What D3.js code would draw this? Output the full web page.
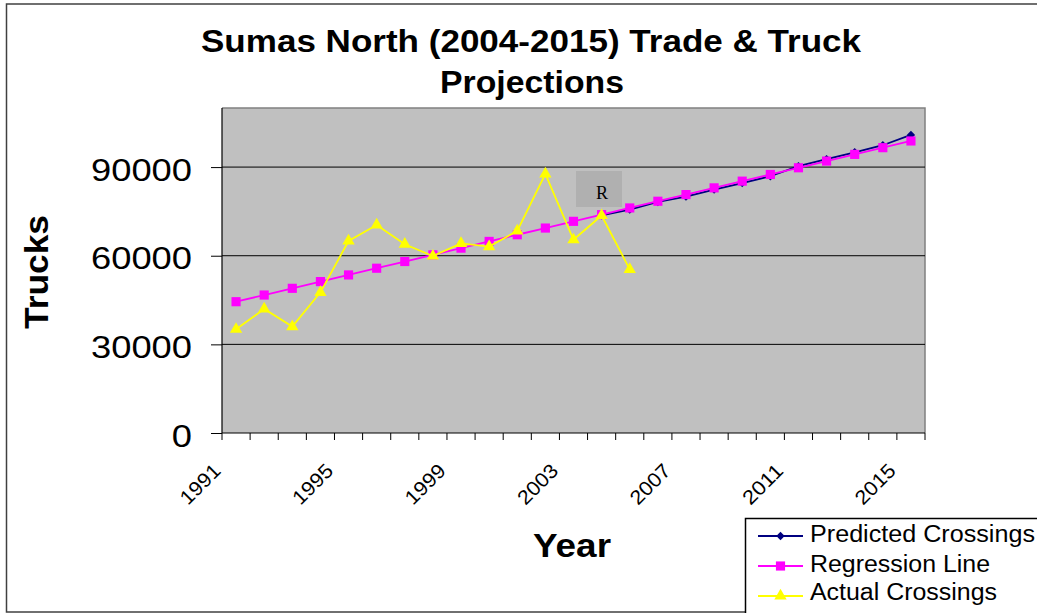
<!DOCTYPE html>
<html>
<head>
<meta charset="utf-8">
<script src="https://cdn.jsdelivr.net/npm/d3@7"></script>
<style>
  html, body { margin: 0; padding: 0; background: #fff; }
  svg { display: block; }
  text { font-family: "Liberation Sans", Arial, Helvetica, sans-serif; }
  text.serif { font-family: "Liberation Serif", "Times New Roman", serif; }
</style>
</head>
<body>
<script>
// ---- data ----
const years = [1991,1992,1993,1994,1995,1996,1997,1998,1999,2000,2001,2002,2003,
               2004,2005,2006,2007,2008,2009,2010,2011,2012,2013,2014,2015];
const yearLabels = [1991,1995,1999,2003,2007,2011,2015];
const regression = [44440,46700,48970,51240,53500,55770,58040,60300,62570,64840,67100,69370,
                    71640,73900,76170,78440,80700,82970,85240,87500,89770,92040,94300,96570,98840];
const predictedYears = [2004,2005,2006,2007,2008,2009,2010,2011,2012,2013,2014,2015];
const predicted = [73700,75600,78200,80000,82400,84600,86900,90300,92700,95000,97400,100900];
const actualYears = [1991,1992,1993,1994,1995,1996,1997,1998,1999,2000,2001,2002,2003,2004,2005];
const actual = [35100,42000,36000,47600,65000,70400,63900,59900,64200,63100,68400,87700,65400,73600,55400];
const yTicks = [0,30000,60000,90000];
const seriesNames = ["Predicted Crossings","Regression Line","Actual Crossings"];
const titleLines = ["Sumas North (2004-2015) Trade & Truck","Projections"];

// ---- layout ----
const W = 1037, H = 613;
const plot = {left: 222, right: 925, top: 108, bottom: 433};

const svg = d3.select("body").append("svg").attr("width", W).attr("height", H);

// chart frame
svg.append("rect").attr("x", 6.5).attr("y", 4).attr("width", W + 20).attr("height", 608)
  .attr("fill", "#fff").attr("stroke", "#404040").attr("stroke-width", 1.5);

const x = d3.scaleBand().domain(years).range([plot.left, plot.right]).padding(0);
const cx = d => x(d) + x.bandwidth() / 2;
const y = d3.scaleLinear().domain([0, 110000]).range([plot.bottom, plot.top]);

// plot area
svg.append("rect").attr("x", plot.left).attr("y", plot.top)
  .attr("width", plot.right - plot.left).attr("height", plot.bottom - plot.top)
  .attr("fill", "#c0c0c0");
svg.append("path")
  .attr("d", `M${plot.left},${plot.top}H${plot.right}V${plot.bottom}`)
  .attr("fill", "none").attr("stroke", "#808080").attr("stroke-width", 1.5);

// gridlines
svg.append("g").selectAll("line").data(yTicks.filter(d => d > 0)).join("line")
  .attr("x1", plot.left).attr("x2", plot.right)
  .attr("y1", d => y(d)).attr("y2", d => y(d))
  .attr("stroke", "#000").attr("stroke-width", 1);

// y axis
const yAxis = svg.append("g").attr("transform", `translate(${plot.left},0)`)
  .call(d3.axisLeft(y).tickValues(yTicks).tickSize(11).tickFormat(""));
yAxis.select(".domain").remove();
yAxis.selectAll(".tick line").attr("stroke", "#000");
svg.append("line").attr("x1", plot.left).attr("x2", plot.left)
  .attr("y1", plot.top).attr("y2", plot.bottom).attr("stroke", "#000").attr("stroke-width", 1.2);
svg.append("g").selectAll("text").data(yTicks).join("text")
  .attr("x", 192).attr("y", d => y(d) + 13.5)
  .attr("text-anchor", "end").attr("font-size", 32)
  .attr("textLength", d => String(d).length * 20.2).attr("lengthAdjust", "spacingAndGlyphs")
  .text(d => d);

// x axis
svg.append("line").attr("x1", plot.left).attr("x2", plot.right)
  .attr("y1", plot.bottom).attr("y2", plot.bottom).attr("stroke", "#000").attr("stroke-width", 1.2);
const bounds = years.map(d => x(d)).concat([x(years[years.length - 1]) + x.bandwidth()]);
svg.append("g").selectAll("line").data(bounds).join("line")
  .attr("x1", d => d).attr("x2", d => d)
  .attr("y1", plot.bottom).attr("y2", plot.bottom + 7)
  .attr("stroke", "#000").attr("stroke-width", 1);
svg.append("g").selectAll("text").data(yearLabels).join("text")
  .attr("transform", d => `translate(${cx(d) - 14},${plot.bottom + 39}) rotate(-45)`)
  .attr("text-anchor", "end").attr("font-size", 20)
  .attr("textLength", 48).attr("lengthAdjust", "spacingAndGlyphs")
  .text(d => d);

// axis titles
svg.append("text").attr("x", 572).attr("y", 557).attr("text-anchor", "middle")
  .attr("font-size", 33).attr("font-weight", "bold")
  .attr("textLength", 78).attr("lengthAdjust", "spacingAndGlyphs").text("Year");
svg.append("text").attr("transform", "translate(48,272) rotate(-90)")
  .attr("text-anchor", "middle").attr("font-size", 34).attr("font-weight", "bold")
  .attr("textLength", 114).attr("lengthAdjust", "spacingAndGlyphs").text("Trucks");

// title
svg.append("text").attr("x", 531).attr("y", 52).attr("text-anchor", "middle")
  .attr("font-size", 32).attr("font-weight", "bold")
  .attr("textLength", 660).attr("lengthAdjust", "spacingAndGlyphs").text(titleLines[0]);
svg.append("text").attr("x", 532).attr("y", 93).attr("text-anchor", "middle")
  .attr("font-size", 32).attr("font-weight", "bold")
  .attr("textLength", 184).attr("lengthAdjust", "spacingAndGlyphs").text(titleLines[1]);

// R box
svg.append("rect").attr("x", 576).attr("y", 171).attr("width", 46).attr("height", 36)
  .attr("fill", "#b0b0b0");
svg.append("text").attr("class", "serif").attr("x", 602).attr("y", 198.5).attr("text-anchor", "middle")
  .attr("font-size", 18).attr("fill", "#000").text("R");

// series
const sym = {
  diamond: d3.symbol().type(d3.symbolDiamond2).size(45),
  square: d3.symbol().type(d3.symbolSquare).size(84),
  triangle: d3.symbol().type(d3.symbolTriangle).size(66)
};
const series = [
  {name: seriesNames[0], xs: predictedYears, vs: predicted, color: "#000080", shape: "diamond"},
  {name: seriesNames[1], xs: years, vs: regression, color: "#ff00ff", shape: "square"},
  {name: seriesNames[2], xs: actualYears, vs: actual, color: "#ffff00", shape: "triangle"}
];
const line = d3.line().x(d => cx(d[0])).y(d => y(d[1]));
series.forEach(s => {
  const pts = s.xs.map((yr, i) => [yr, s.vs[i]]);
  const g = svg.append("g");
  g.append("path").attr("d", line(pts)).attr("fill", "none")
    .attr("stroke", s.color).attr("stroke-width", 1.8);
  g.selectAll("path.m").data(pts).join("path").attr("class", "m")
    .attr("transform", d => `translate(${cx(d[0])},${y(d[1])})`)
    .attr("d", sym[s.shape]()).attr("fill", s.color);
});

// legend
const lg = svg.append("g");
lg.append("rect").attr("x", 745.5).attr("y", 518.5).attr("width", 320).attr("height", 120)
  .attr("fill", "#fff").attr("stroke", "#000").attr("stroke-width", 1.5);
const legW = [225, 180, 187];
series.forEach((s, i) => {
  const ly = 536 + i * 30;
  lg.append("line").attr("x1", 758).attr("x2", 803).attr("y1", ly).attr("y2", ly)
    .attr("stroke", s.color).attr("stroke-width", 1.8);
  lg.append("path").attr("transform", `translate(780.5,${ly})`)
    .attr("d", sym[s.shape]()).attr("fill", s.color);
  lg.append("text").attr("x", 810).attr("y", ly + 6 + (i === 2 ? -2 : 0)).attr("font-size", 23)
    .attr("textLength", legW[i]).attr("lengthAdjust", "spacingAndGlyphs").text(s.name);
});
</script>
</body>
</html>
